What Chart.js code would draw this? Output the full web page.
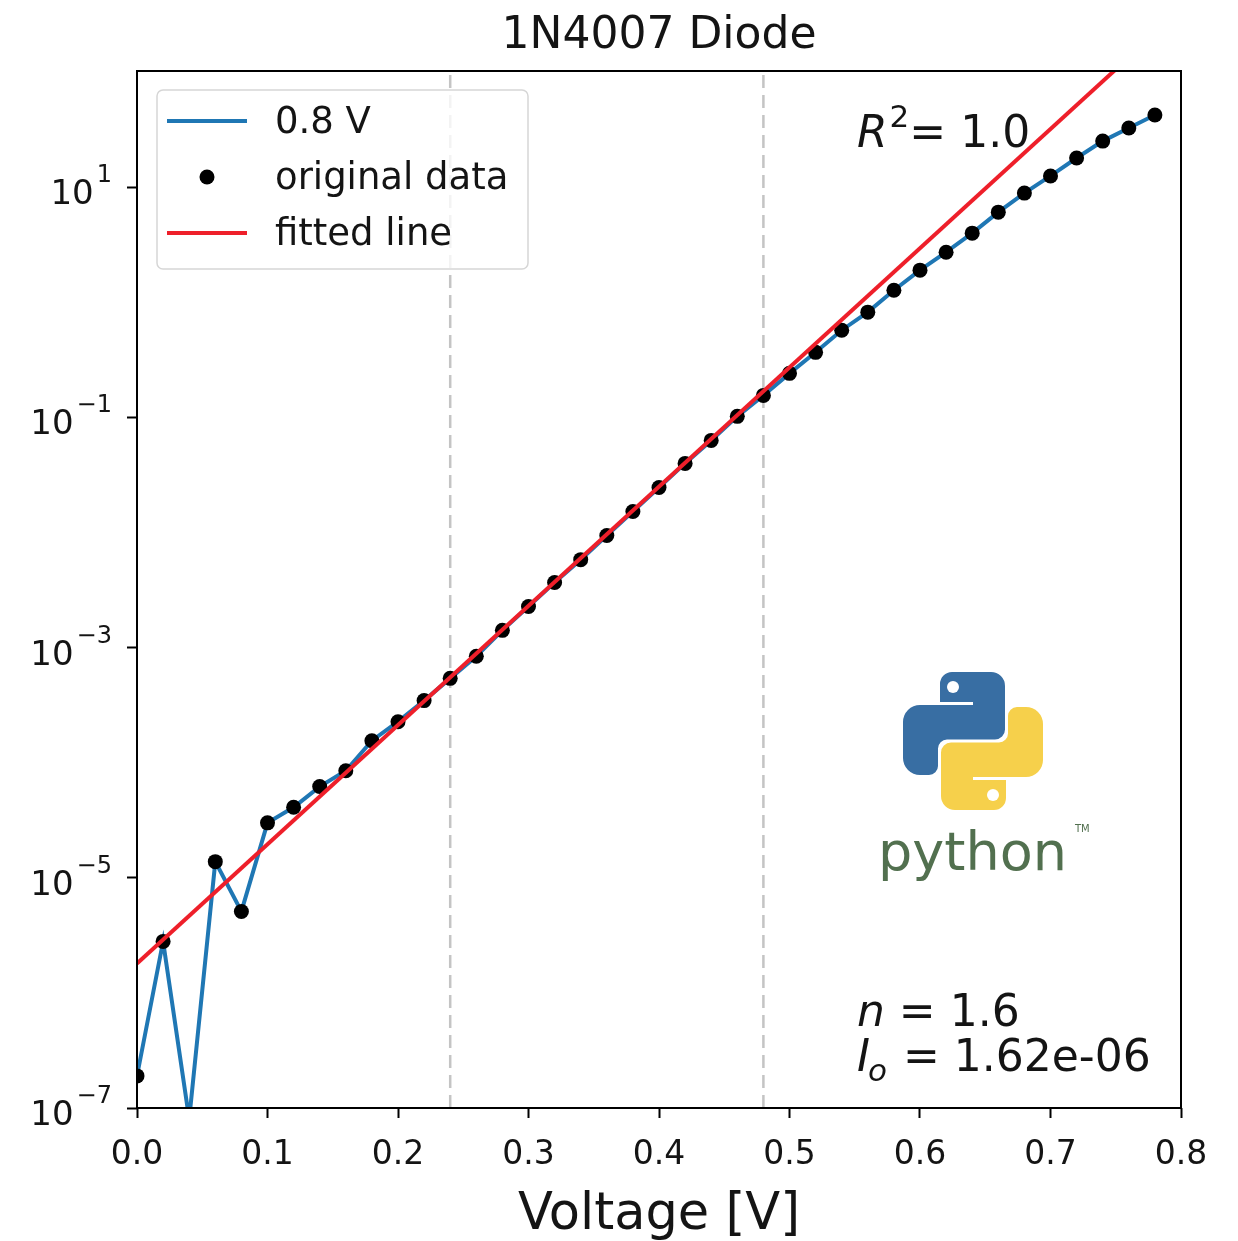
<!DOCTYPE html>
<html>
<head>
<meta charset="utf-8">
<script src="https://cdn.jsdelivr.net/npm/chart.js@4.4.1/dist/chart.umd.min.js"></script>
<style>
    html, body { margin: 0; padding: 0; background: #fff; }
    #chart-wrap { width: 1238px; height: 1241px; position: relative; }
</style>
</head>
<body>
<div id="chart-wrap"><canvas id="diodeChart"></canvas></div>
<script>
// measured points, 1N4007 forward sweep up to 0.8 V
const voltage = [0.00, 0.02, 0.04, 0.06, 0.08, 0.10, 0.12, 0.14, 0.16, 0.18,
    0.20, 0.22, 0.24, 0.26, 0.28, 0.30, 0.32, 0.34, 0.36, 0.38,
    0.40, 0.42, 0.44, 0.46, 0.48, 0.50, 0.52, 0.54, 0.56, 0.58,
    0.60, 0.62, 0.64, 0.66, 0.68, 0.70, 0.72, 0.74, 0.76, 0.78];
const current = [1.9e-7, 2.8e-6, 8e-8, 1.38e-5, 5.1e-6, 3.0e-5, 4.1e-5, 6.2e-5, 8.5e-5, 1.55e-4,
    2.27e-4, 3.46e-4, 5.4e-4, 8.4e-4, 1.41e-3, 2.27e-3, 3.67e-3, 5.8e-3, 9.4e-3, 1.52e-2,
    2.46e-2, 3.98e-2, 6.3e-2, 0.102, 0.155, 0.241, 0.367, 0.571, 0.82, 1.27,
    1.90, 2.72, 3.98, 6.06, 8.87, 12.5, 17.9, 25.1, 32.6, 42.3];

// fitted exponential (straight on log axis), end points
const fitVoltage = [0.0, 0.8];
const fitCurrent = [1.8e-6, 347];

// fit window boundaries
const windowVoltage = [0.24, 0.48];

const yMin = 1e-7;
const yMax = 102;
const yTickValues = [1e-7, 1e-5, 1e-3, 1e-1, 1e1];
const yTickExponents = ['−7', '−5', '−3', '−1', '1'];

const legendLabels = ['0.8 V', 'original data', 'fitted line'];
const chartTitle = '1N4007 Diode';
const xTitle = 'Voltage [V]';
const fitStats = { r2: '1.0', n: '1.6', io: '1.62e-06' };

const FONT = '"DejaVu Sans", sans-serif';
const BLUE = '#1f77b4';
const RED = '#ee1f2a';
const TEXT = '#141414';

function toPoints(xs, ys) {
    return xs.map((x, i) => ({ x: x, y: ys[i] }));
}

function roundedPoly(ctx, pts) {
    const n = pts.length;
    const last = pts[n - 1];
    const first = pts[0];
    ctx.beginPath();
    ctx.moveTo((last[0] + first[0]) / 2, (last[1] + first[1]) / 2);
    for (let i = 0; i < n; i++) {
        const p = pts[i];
        const q = pts[(i + 1) % n];
        if (p[2] > 0) {
            ctx.arcTo(p[0], p[1], q[0], q[1], p[2]);
        } else {
            ctx.lineTo(p[0], p[1]);
        }
    }
    ctx.closePath();
}

function drawPythonLogo(ctx, cx, cy) {
    // blue snake, relative to the logo centre; yellow one is the same turned 180 degrees
    const snake = [
        [-33, -69, 12], [32, -69, 14], [32, -1.5, 10], [-35, -1.5, 9],
        [-35, 34, 9], [-70, 34, 17], [-70, -36, 17], [0, -36, 0],
        [0, -39, 0], [-33, -39, 0]
    ];
    ctx.save();
    ctx.fillStyle = '#386ea3';
    roundedPoly(ctx, snake.map(p => [cx + p[0], cy + p[1], p[2]]));
    ctx.fill();
    ctx.fillStyle = '#f6d04b';
    roundedPoly(ctx, snake.map(p => [cx - p[0], cy - p[1], p[2]]));
    ctx.fill();
    ctx.fillStyle = '#ffffff';
    ctx.beginPath();
    ctx.arc(cx - 20, cy - 54, 6, 0, Math.PI * 2);
    ctx.fill();
    ctx.beginPath();
    ctx.arc(cx + 20, cy + 54, 6, 0, Math.PI * 2);
    ctx.fill();

    ctx.fillStyle = '#52704f';
    ctx.font = '54px ' + FONT;
    ctx.textAlign = 'left';
    ctx.textBaseline = 'alphabetic';
    ctx.fillText('python', cx - 95, cy + 129);
    ctx.font = '10px ' + FONT;
    ctx.fillText('TM', cx + 102, cy + 91);
    ctx.restore();
}

const decorations = {
    id: 'decorations',
    afterDatasetsDraw(chart) {
        const ctx = chart.ctx;
        const area = chart.chartArea;
        const yScale = chart.scales.y;

        ctx.save();
        // frame
        ctx.strokeStyle = '#000';
        ctx.lineWidth = 2;
        ctx.strokeRect(area.left, area.top, area.right - area.left, area.bottom - area.top);

        // title and x label
        ctx.fillStyle = TEXT;
        ctx.textAlign = 'center';
        ctx.textBaseline = 'alphabetic';
        ctx.font = '44px ' + FONT;
        ctx.fillText(chartTitle, (area.left + area.right) / 2, 48);
        ctx.font = '51px ' + FONT;
        ctx.fillText(xTitle, (area.left + area.right) / 2, 1229);

        // y tick labels 10^k
        yTickValues.forEach((v, i) => {
            const y = yScale.getPixelForValue(v);
            ctx.font = '24px ' + FONT;
            const supW = ctx.measureText(yTickExponents[i]).width;
            ctx.textAlign = 'right';
            ctx.fillText(yTickExponents[i], 112, y - 5);
            ctx.font = '34px ' + FONT;
            ctx.fillText('10', 112 - supW - 3, y + 17);
        });

        // legend
        const lx = 157, ly = 90, lw = 371, lh = 179;
        ctx.fillStyle = 'rgba(255,255,255,0.8)';
        ctx.strokeStyle = '#d6d6d6';
        ctx.lineWidth = 1.5;
        ctx.beginPath();
        ctx.roundRect(lx, ly, lw, lh, 6);
        ctx.fill();
        ctx.stroke();
        const rows = [121, 177, 233];
        ctx.lineWidth = 4;
        ctx.strokeStyle = BLUE;
        ctx.beginPath(); ctx.moveTo(167, rows[0]); ctx.lineTo(247, rows[0]); ctx.stroke();
        ctx.fillStyle = '#000';
        ctx.beginPath(); ctx.arc(207, rows[1], 7.5, 0, Math.PI * 2); ctx.fill();
        ctx.strokeStyle = RED;
        ctx.beginPath(); ctx.moveTo(167, rows[2]); ctx.lineTo(247, rows[2]); ctx.stroke();
        ctx.fillStyle = TEXT;
        ctx.font = '37px ' + FONT;
        ctx.textAlign = 'left';
        ctx.textBaseline = 'middle';
        legendLabels.forEach((t, i) => ctx.fillText(t, 275, rows[i] + 2));

        // fit annotations
        ctx.textBaseline = 'alphabetic';
        let x = 857;
        ctx.font = 'italic 44px ' + FONT;
        ctx.fillText('R', x, 147);
        x += ctx.measureText('R').width + 2;
        ctx.font = '31px ' + FONT;
        ctx.fillText('2', x, 127);
        x += ctx.measureText('2').width;
        ctx.font = '44px ' + FONT;
        ctx.fillText('= ' + fitStats.r2, x, 147);

        x = 857;
        ctx.font = 'italic 44px ' + FONT;
        ctx.fillText('n', x, 1026);
        x += ctx.measureText('n').width;
        ctx.font = '44px ' + FONT;
        ctx.fillText(' = ' + fitStats.n, x, 1026);

        x = 857;
        ctx.font = 'italic 44px ' + FONT;
        ctx.fillText('I', x, 1071);
        x += ctx.measureText('I').width;
        ctx.font = 'italic 31px ' + FONT;
        ctx.fillText('o', x - 2, 1081);
        x += ctx.measureText('o').width;
        ctx.font = '44px ' + FONT;
        ctx.fillText(' = ' + fitStats.io, x, 1071);

        drawPythonLogo(ctx, area.left + 836, area.top + 670);
        ctx.restore();
    }
};

const ctx = document.getElementById('diodeChart').getContext('2d');

new Chart(ctx, {
    type: 'line',
    data: {
        datasets: [
            {
                label: 'window low',
                data: [{ x: windowVoltage[0], y: yMin }, { x: windowVoltage[0], y: yMax }],
                borderColor: '#c4c4c4',
                borderWidth: 2.5,
                borderDash: [13, 7],
                pointRadius: 0,
                order: 5
            },
            {
                label: 'window high',
                data: [{ x: windowVoltage[1], y: yMin }, { x: windowVoltage[1], y: yMax }],
                borderColor: '#c4c4c4',
                borderWidth: 2.5,
                borderDash: [13, 7],
                pointRadius: 0,
                order: 4
            },
            {
                label: legendLabels[0],
                data: toPoints(voltage, current),
                borderColor: BLUE,
                borderWidth: 4,
                pointRadius: 0,
                tension: 0,
                order: 3
            },
            {
                label: legendLabels[1],
                data: toPoints(voltage, current),
                showLine: false,
                pointRadius: 7.5,
                pointBorderWidth: 0,
                pointBackgroundColor: '#000',
                order: 2
            },
            {
                label: legendLabels[2],
                data: toPoints(fitVoltage, fitCurrent),
                borderColor: RED,
                borderWidth: 4,
                pointRadius: 0,
                order: 1
            }
        ]
    },
    options: {
        responsive: true,
        maintainAspectRatio: false,
        animation: false,
        layout: { padding: { top: 71, right: 57, left: 0, bottom: 0 } },
        scales: {
            x: {
                type: 'linear',
                min: 0,
                max: 0.8,
                grid: { drawOnChartArea: false, tickLength: 10, tickWidth: 2, tickColor: '#000' },
                border: { display: false },
                ticks: {
                    stepSize: 0.1,
                    autoSkip: false,
                    maxRotation: 0,
                    padding: 18,
                    color: TEXT,
                    font: { family: FONT, size: 33 },
                    callback: v => v.toFixed(1)
                },
                afterFit: scale => { scale.height = 133; }
            },
            y: {
                type: 'logarithmic',
                min: yMin,
                max: yMax,
                bounds: 'data',
                grid: { drawOnChartArea: false, tickLength: 10, tickWidth: 2, tickColor: '#000' },
                border: { display: false },
                ticks: { callback: () => '' },
                afterBuildTicks: scale => { scale.ticks = yTickValues.map(v => ({ value: v })); },
                afterFit: scale => { scale.width = 137; }
            }
        },
        plugins: {
            legend: { display: false },
            tooltip: { enabled: false }
        }
    },
    plugins: [decorations]
});
</script>
</body>
</html>
